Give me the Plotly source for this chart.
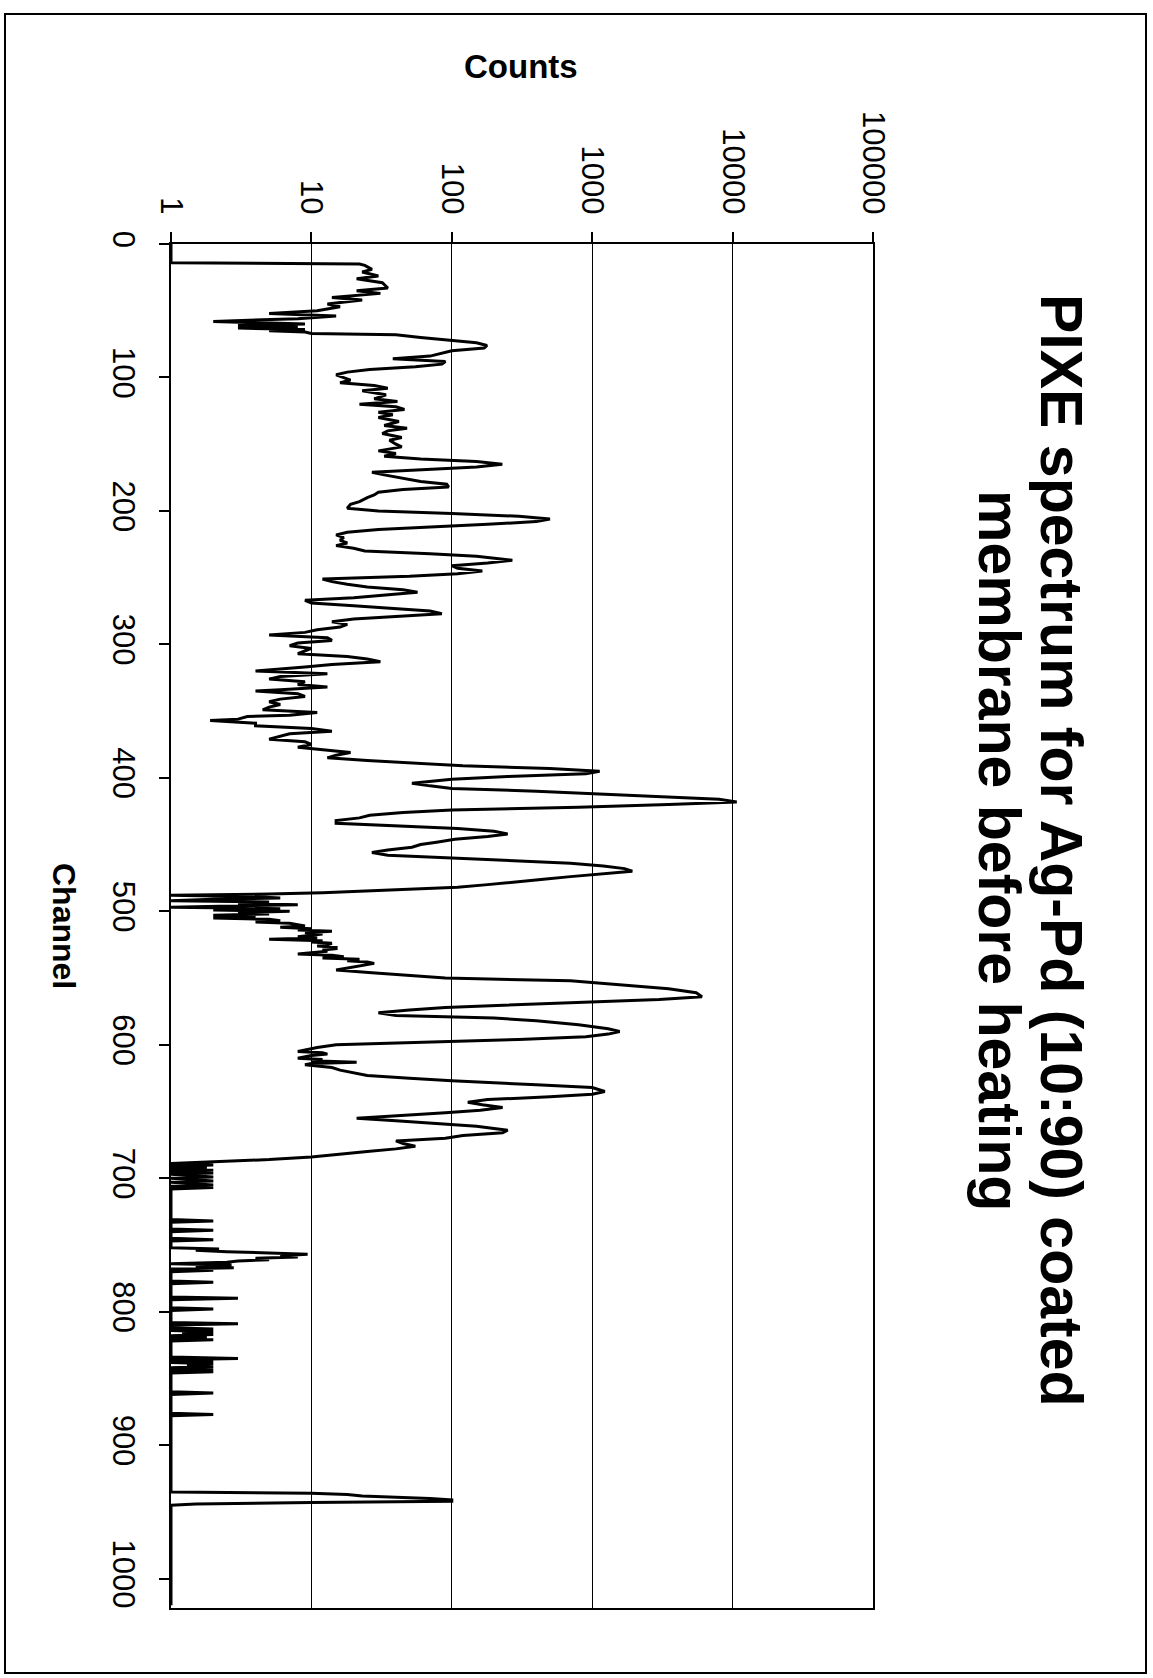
import plotly.graph_objects as go

# PIXE spectrum: counts per channel (log scale), drawn with channel running downward
channel = [
    0, 14, 15, 16, 19, 21, 24, 26, 29, 33,
    35, 37, 40, 42, 45, 47, 50, 52, 54, 56,
    58, 59, 60, 61, 62, 63, 64, 65, 66, 67,
    68, 70, 72, 74, 76, 78, 80, 82, 84, 86,
    88, 90, 92, 94, 96, 98, 100, 102, 104, 106,
    108, 110, 113, 116, 118, 120, 122, 124, 126, 128,
    130, 133, 136, 138, 140, 142, 145, 147, 150, 152,
    155, 157, 159, 161, 163, 165, 167, 169, 171, 173,
    175, 178, 180, 182, 184, 186, 188, 190, 193, 195,
    198, 200, 202, 204, 206, 208, 210, 212, 214, 216,
    218, 220, 222, 224, 226, 228, 230, 232, 234, 237,
    239, 241, 243, 245, 247, 249, 251, 253, 255, 257,
    259, 261, 263, 265, 267, 269, 271, 273, 275, 277,
    279, 281, 283, 285, 287, 289, 291, 293, 295, 297,
    299, 301, 303, 305, 307, 309, 311, 313, 315, 317,
    319, 320, 322, 324, 326, 328, 330, 332, 334, 335,
    337, 339, 341, 343, 345, 347, 349, 351, 353, 354,
    356, 357, 359, 361, 363, 365, 367, 369, 371, 373,
    375, 377, 379, 381, 383, 385, 387, 389, 391, 393,
    395, 397, 399, 401, 403, 404, 406, 408, 410, 412,
    414, 416, 418, 420, 422, 424, 426, 428, 430, 432,
    434, 436, 438, 440, 442, 444, 446, 448, 450, 452,
    454, 456, 458, 460, 462, 464, 466, 468, 470, 472,
    474, 476, 478, 480, 482, 484, 486, 487, 488, 489,
    490, 491, 492, 493, 494, 495, 496, 497, 498, 499,
    500, 501, 502, 503, 504, 505, 506, 507, 508, 509,
    510, 511, 512, 513, 514, 515, 516, 517, 518, 519,
    520, 521, 522, 523, 524, 525, 526, 527, 528, 529,
    530, 531, 532, 533, 534, 535, 536, 537, 538, 539,
    540, 542, 544, 546, 548, 550, 552, 555, 558, 561,
    564, 566, 568, 570, 572, 574, 576, 578, 580, 582,
    585, 588, 590, 592, 594, 596, 598, 600, 602, 604,
    605, 606, 607, 608, 609, 610, 611, 612, 613, 614,
    615, 617, 619, 621, 623, 625, 627, 630, 632, 635,
    637, 639, 641, 643, 645, 647, 649, 651, 653, 655,
    657, 659, 661, 664, 666, 668, 670, 672, 674, 676,
    678, 680, 682, 684, 686, 688, 689, 690, 691, 692,
    693, 694, 695, 696, 697, 699, 700, 702, 703, 705,
    706, 707, 708, 731, 732, 733, 738, 739, 740, 745,
    746, 747, 752, 753, 754, 755, 756, 757, 758, 759,
    760, 761, 762, 763, 764, 765, 766, 767, 768, 769,
    770, 777, 778, 779, 789, 790, 791, 797, 798, 799,
    808, 809, 810, 812, 813, 814, 815, 816, 817, 818,
    819, 820, 821, 822, 834, 835, 836, 837, 838, 839,
    840, 841, 842, 843, 844, 845, 846, 860, 861, 862,
    876, 877, 878, 935, 936, 937, 938, 939, 940, 941,
    942, 943, 944, 945, 1020,
]

counts = [
    1, 1, 22, 24, 27, 23, 30, 21, 32, 35,
    21, 31, 14, 23, 13, 16, 11, 5, 15, 8,
    2, 4, 9, 3, 8, 3, 9, 5, 9, 10,
    40, 60, 95, 150, 178, 170, 100, 85, 70, 38,
    90, 85, 55, 26, 18, 15, 17, 19, 16, 28,
    35, 23, 34, 28, 41, 22, 40, 46, 30, 38,
    30, 42, 33, 48, 35, 32, 44, 36, 40, 44,
    30, 40, 33, 60, 150, 229, 150, 60, 27, 33,
    41, 60, 92, 95, 45, 30, 28, 25, 22, 19,
    18, 30, 100, 300, 500, 400, 180, 80, 30, 18,
    15, 17, 16, 18, 15, 20, 24, 70, 150, 270,
    180, 100, 110, 165, 110, 50, 12, 14, 18, 25,
    45, 57, 35, 20, 9, 10, 20, 40, 70, 85,
    40, 20, 14, 18, 16, 11, 9, 5, 13, 14,
    8, 7, 10, 9, 8, 18, 25, 31, 14, 9,
    5, 4, 13, 6, 5, 9, 8, 13, 6, 4,
    8, 9, 6, 5, 6, 5, 4.5, 11, 7, 3.5,
    3, 1.9, 4, 4, 10, 14, 7, 6, 5, 9,
    10, 8, 13, 19, 15, 13, 25, 60, 120, 500,
    1130, 900, 250, 100, 60, 52, 70, 100, 400, 1000,
    3000, 8000, 10700, 3500, 800, 100, 45, 26, 22, 15,
    15, 40, 110, 200, 250, 180, 105, 80, 60, 52,
    35, 27, 35, 100, 250, 700, 1200, 1700, 1930, 1100,
    700, 450, 300, 180, 110, 40, 12, 5, 1, 4,
    6, 2, 1, 5, 3, 8, 2, 1, 6, 2,
    7, 3, 5, 2, 4, 2, 5, 6, 4, 7,
    8, 9, 6, 10, 8, 14, 9, 12, 10, 8,
    11, 5, 12, 10, 14, 13, 11, 15, 15, 12,
    13, 10, 8, 14, 17, 12, 22, 18, 25, 28,
    25, 20, 15, 27, 50, 90, 700, 1500, 3500, 5500,
    6050, 3000, 900, 300, 90, 50, 30, 40, 200, 400,
    800, 1300, 1570, 1300, 900, 300, 80, 15, 11, 9,
    8, 12, 13, 10, 9, 8, 12, 10, 21, 10,
    9, 14, 16, 20, 25, 50, 100, 400, 1000, 1230,
    1000, 500, 180, 130, 165, 230, 160, 90, 40, 21,
    40, 80, 150, 250, 230, 120, 90, 40, 45, 55,
    40, 25, 15, 10, 5, 1.5, 1, 2, 1, 1.8,
    1, 2, 1, 2, 1, 2, 1, 2, 1, 2,
    1, 2, 1, 1, 2, 1, 1, 2, 1, 1,
    2, 1, 1, 2.2, 1.5, 2.5, 5, 9.4, 6, 8,
    4, 5, 3, 2.5, 1, 2.7, 1.5, 2.8, 1, 2,
    1, 1, 2, 1, 1, 3, 1, 1, 2, 1,
    1, 3, 1, 1, 2, 1, 2, 1.2, 2, 1,
    1.8, 1, 2, 1, 1, 3, 1, 2, 1, 2,
    1.3, 2, 1, 2, 1, 2, 1, 1, 2, 1,
    1, 2, 1, 1, 10, 18, 23, 45, 70, 100,
    100, 10, 1.5, 1, 1,
]

assert len(channel) == len(counts)

count_ticks = [1, 10, 100, 1000, 10000, 100000]
count_tick_text = ["1", "10", "100", "1000", "10000", "100000"]
channel_ticks = list(range(0, 1001, 100))

title_lines = ["PIXE spectrum for Ag-Pd (10:90) coated", "membrane before heating"]
count_label = "Counts"
channel_label = "Channel"

FONT = "Liberation Sans, Arial, sans-serif"

fig = go.Figure()
fig.add_trace(go.Scatter(
    x=counts, y=channel, mode="lines",
    line=dict(color="black", width=3),
    showlegend=False, hoverinfo="skip",
))

fig.update_layout(
    width=1153, height=1678,
    margin=dict(l=171, r=280, t=244, b=70),
    paper_bgcolor="white", plot_bgcolor="white",
    font=dict(family=FONT, color="black"),
    xaxis=dict(
        type="log", range=[0, 5], side="top",
        tickvals=count_ticks, ticktext=count_tick_text,
        tickangle=90, tickfont=dict(size=31, family=FONT, color="black"),
        ticks="outside", ticklen=10, tickwidth=1.5, tickcolor="black",
        ticklabelstandoff=7,
        showgrid=True, gridcolor="black", gridwidth=1.2,
        showline=True, linecolor="black", linewidth=1.5, mirror=True,
        zeroline=False,
    ),
    yaxis=dict(
        range=[1022, 0],
        tickvals=channel_ticks,
        tickangle=90, tickfont=dict(size=31, family=FONT, color="black"),
        ticks="outside", ticklen=10, tickwidth=1.5, tickcolor="black",
        ticklabelstandoff=9,
        showgrid=False,
        showline=True, linecolor="black", linewidth=1.5, mirror=True,
        zeroline=False,
    ),
)

# plot area spans x 171..873 px and y 244..1608 px
def px_x(p):
    return (p - 171) / 702.0

def px_y(p):
    return (1608 - p) / 1364.0

# two-line rotated title, one annotation per line for tighter spacing
for line_text, cx in zip(title_lines, [1061, 999]):
    fig.add_annotation(
        text="<b>" + line_text + "</b>", textangle=90,
        xref="paper", yref="paper", x=px_x(cx), y=px_y(850),
        xanchor="center", yanchor="middle", showarrow=False,
        font=dict(size=59, family=FONT, color="black"),
    )

fig.add_annotation(
    text="<b>" + count_label + "</b>",
    xref="paper", yref="paper", x=px_x(521), y=px_y(67),
    xanchor="center", yanchor="middle", showarrow=False,
    font=dict(size=33, family=FONT, color="black"),
)
fig.add_annotation(
    text="<b>" + channel_label + "</b>", textangle=90,
    xref="paper", yref="paper", x=px_x(64), y=px_y(926),
    xanchor="center", yanchor="middle", showarrow=False,
    font=dict(size=32, family=FONT, color="black"),
)

# outer chart frame
fig.add_shape(
    type="rect", xref="paper", yref="paper",
    x0=px_x(5), x1=px_x(1146), y0=px_y(1673), y1=px_y(14),
    line=dict(color="black", width=2), fillcolor="rgba(0,0,0,0)",
)

fig.write_html("out.html")
